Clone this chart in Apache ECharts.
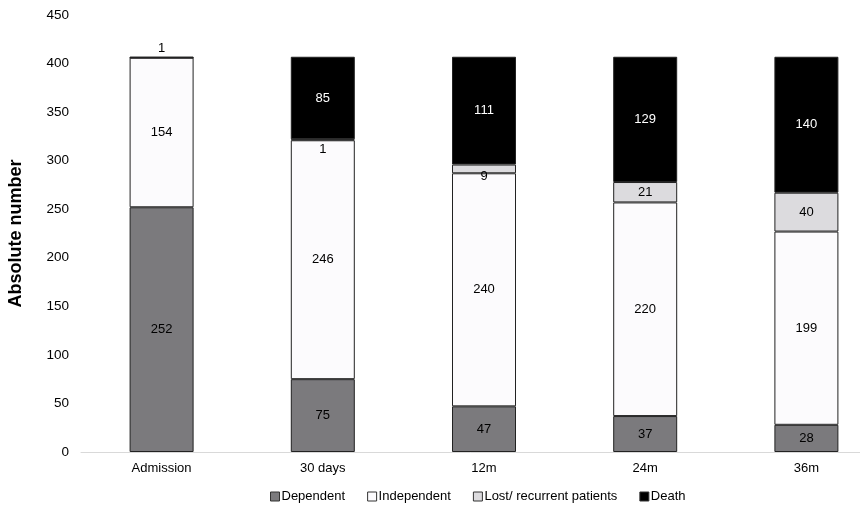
<!DOCTYPE html>
<html>
<head>
<meta charset="utf-8">
<script src="https://cdn.jsdelivr.net/npm/echarts@6/dist/echarts.min.js"></script>
<style>
  html, body { margin: 0; padding: 0; background: #fff; }
  #chart { width: 860px; height: 507px; }
</style>
</head>
<body>
<div id="chart"></div>
<script>
const categories = ['Admission', '30 days', '12m', '24m', '36m']
const dependent = [252, 75, 47, 37, 28]
const independent = [154, 246, 240, 220, 199]
const lost = [0, 1, 9, 21, 40]
const death = [1, 85, 111, 129, 140]

const font = 'Liberation Sans, Arial, sans-serif'

function makeSeries(name, data, color, labelColor) {
  return {
    name: name,
    type: 'bar',
    stack: 'total',
    barWidth: 64,
    data: data.map((v, i) => {
      const item = { value: v }
      // tiny segments: label sits outside the rect
      if (name === 'Death' && v < 5) {
        item.label = { position: 'top', color: '#000', distance: 2 }
      }
      if (name !== 'Death' && v > 0 && v < 12) {
        item.label = { position: 'bottom', distance: v < 5 ? 3 : -3 }
      }
      return item
    }),
    itemStyle: { color: color, borderColor: '#222', borderWidth: 1 },
    label: {
      show: true,
      position: 'inside',
      color: labelColor,
      fontFamily: font,
      fontSize: 13,
      formatter: p => (p.value ? p.value : '')
    }
  }
}

const chart = echarts.init(document.getElementById('chart'))
chart.setOption({
  animation: false,
  backgroundColor: '#fff',
  grid: { left: 81, top: 15, bottom: 55, right: -27, outerBoundsMode: 'none' },
  legend: {
    bottom: -1,
    left: 265,
    itemWidth: 9,
    itemHeight: 9,
    itemGap: 22,
    icon: 'rect',
    textStyle: { fontFamily: font, fontSize: 13, color: '#000', padding: [0, 0, 0, -3] },
    itemStyle: { borderColor: '#333', borderWidth: 1 }
  },
  xAxis: {
    type: 'category',
    data: categories,
    axisLine: { lineStyle: { color: '#d9d9d9' } },
    axisTick: { show: false },
    axisLabel: { fontFamily: font, fontSize: 13, color: '#000', margin: 10 }
  },
  yAxis: {
    type: 'value',
    min: 0,
    max: 450,
    interval: 50,
    name: 'Absolute number',
    nameLocation: 'middle',
    nameGap: 56,
    nameTextStyle: { fontFamily: font, fontSize: 18, fontWeight: 'bold', color: '#000' },
    axisLine: { show: false },
    axisTick: { show: false },
    splitLine: { show: false },
    axisLabel: { fontFamily: font, fontSize: 13.5, color: '#000', margin: 12 }
  },
  series: [
    makeSeries('Dependent', dependent, '#7b7a7d', '#000'),
    makeSeries('Independent', independent, '#fcfbfd', '#000'),
    makeSeries('Lost/ recurrent patients', lost, '#dcdbde', '#000'),
    makeSeries('Death', death, '#000', '#fff')
  ]
})
</script>
</body>
</html>
